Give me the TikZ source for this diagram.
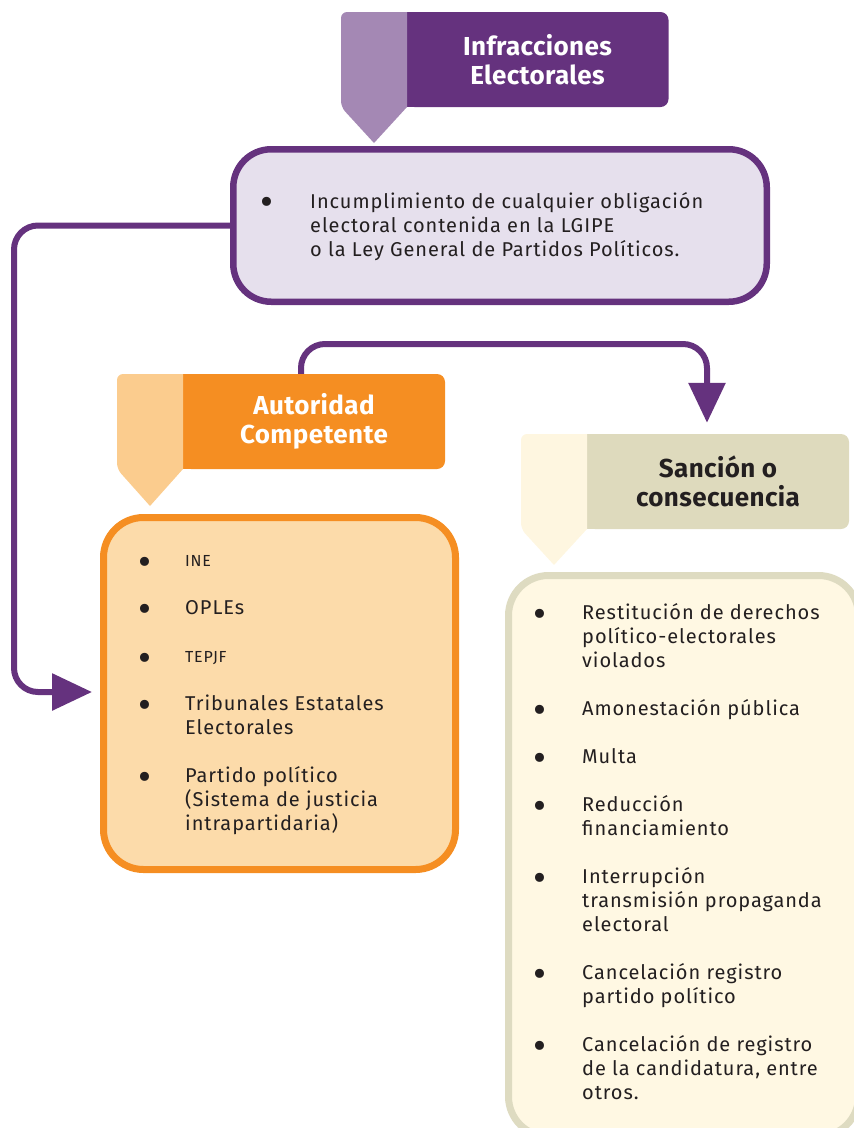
\documentclass[tikz,border=0pt]{standalone}
\usepackage{fontspec}
\setmainfont{Fira Sans}
\newfontfamily\bodyfont[LetterSpace=4.6]{Fira Sans}
\newfontfamily\headfont[LetterSpace=1.5]{Fira Sans}
\usetikzlibrary{arrows.meta,calc}
\definecolor{pdark}{HTML}{65327E}
\definecolor{plight}{HTML}{A488B4}
\definecolor{pfill}{HTML}{E6E0ED}
\definecolor{odark}{HTML}{F58E22}
\definecolor{olight}{HTML}{FBCC8E}
\definecolor{ofill}{HTML}{FCDBAA}
\definecolor{kdark}{HTML}{DEDABD}
\definecolor{klight}{HTML}{FEF6E0}
\definecolor{kfill}{HTML}{FFF8E3}
\definecolor{kborder}{HTML}{DEDBC1}
\definecolor{txt}{HTML}{231F20}
\newcommand\lns[1]{\begin{tabular}[t]{@{}l@{}}#1\end{tabular}}
\tikzset{
 conn/.style={draw=pdark, line width=6pt, rounded corners=24pt, -{Triangle[length=40pt,width=36pt]}},
 body/.style={font=\bodyfont\fontsize{20}{24}\selectfont, text=txt, inner sep=0pt, anchor=base west},
 smallbody/.style={font=\bodyfont\fontsize{16}{18}\selectfont, text=txt, inner sep=0pt, anchor=base west},
 bul/.style={font=\fontsize{40}{40}\selectfont, text=txt, inner sep=0pt, anchor=center, yshift=-6pt},
 head/.style={font=\headfont\fontsize{26}{29}\selectfont\bfseries, align=center, inner sep=0pt, rounded corners=8pt, minimum width=262pt, minimum height=95pt},
 panel/.style={rounded corners=38pt, line width=7pt, inner sep=0pt},
}
\begin{document}
\begin{tikzpicture}[x=1pt,y=-1pt]
\useasboundingbox (0,0) rectangle (854,1128);
\clip (0,0) rectangle (854,1128);
% ---- tab 1
\node[head, fill=pdark, text=white] (t1) at (537.5,59.5) {Infracciones\\Electorales};
\fill[pdark] (t1.north west) rectangle ($(t1.south west)+(12,0)$);
\fill[plight] (407,107) -- (407,12) [rounded corners=6pt] -- (341,12) -- (341,107) [sharp corners] -- (374,143) -- cycle;
% ---- panel 1
\node[panel, draw=pdark, fill=pfill, line width=6.5pt, minimum width=533.5pt, minimum height=152.5pt] (b1) at (500,225.5) {};
\node[bul] (b1m1) at (267,200.5) {•};
\node[body] (b1t1) at (310,208) {\lns{Incumplimiento de cualquier obligación\\electoral contenida en la LGIPE\\o la Ley General de Partidos Políticos.}};
% ---- tab 2
\node[head, fill=odark, text=white] (t2) at (314,421.5) {Autoridad\\Competente};
\fill[odark] (t2.north west) rectangle ($(t2.south west)+(12,0)$);
\fill[olight] (183,469) -- (183,374) [rounded corners=6pt] -- (117,374) -- (117,469) [sharp corners] -- (150,506) -- cycle;
% ---- panel 2
\node[panel, draw=odark, fill=ofill, rounded corners=40pt, minimum width=352pt, minimum height=352pt] (b2) at (279.5,693.5) {};
\node[bul] (b2m1) at (145,560) {•};
\node[smallbody] (b2t1) at (185,566.5) {INE};
\node[bul] (b2m2) at (145,607) {•};
\node[body] (b2t2) at (185,614) {OPLEs};
\node[bul] (b2m3) at (145,656) {•};
\node[smallbody] (b2t3) at (185,662.5) {TEPJF};
\node[bul] (b2m4) at (145,703) {•};
\node[body] (b2t4) at (185,710) {\lns{Tribunales Estatales\\Electorales}};
\node[bul] (b2m5) at (145,775) {•};
\node[body] (b2t5) at (185,782) {\lns{Partido político\\(Sistema de justicia\\intrapartidaria)}};
% ---- tab 3
\node[head, fill=kdark, text=txt] (t3) at (718,481.5) {Sanción o\\consecuencia};
\fill[kdark] (t3.north west) rectangle ($(t3.south west)+(12,0)$);
\fill[klight] (587,529) -- (587,434) [rounded corners=6pt] -- (521,434) -- (521,529) [sharp corners] -- (554,565) -- cycle;
% ---- panel 3
\node[panel, draw=kborder, fill=kfill, rounded corners=40pt, minimum width=350pt, minimum height=561pt] (b3) at (683.5,856) {};
\node[bul] (b3m1) at (540,612) {•};
\node[body] (b3t1) at (582,619) {\lns{Restitución de derechos\\político-electorales\\violados}};
\node[bul] (b3m2) at (540,708) {•};
\node[body] (b3t2) at (582,715) {Amonestación pública};
\node[bul] (b3m3) at (540,756) {•};
\node[body] (b3t3) at (582,763) {Multa};
\node[bul] (b3m4) at (540,804) {•};
\node[body] (b3t4) at (582,811) {\lns{Reducción\\financiamiento}};
\node[bul] (b3m5) at (540,876) {•};
\node[body] (b3t5) at (582,883) {\lns{Interrupción\\transmisión propaganda\\electoral}};
\node[bul] (b3m6) at (540,972) {•};
\node[body] (b3t6) at (582,979) {\lns{Cancelación registro\\partido político}};
\node[bul] (b3m7) at (540,1044) {•};
\node[body] (b3t7) at (582,1051) {\lns{Cancelación de registro\\de la candidatura, entre\\otros.}};
% ---- connectors
\coordinate (L1) at (14,225.5);
\coordinate (L2) at (14,692);
\draw[conn, shorten >=8pt] (b1.west) -- (L1) -- (L2) -- (b2.west |- L2);
\coordinate (T1) at (301,344);
\coordinate (T2) at (707,344);
\draw[conn, shorten >=11pt] (t2.north -| T1) -- (T1) -- (T2) -- (t3.north -| T2);
\end{tikzpicture}
\end{document}
